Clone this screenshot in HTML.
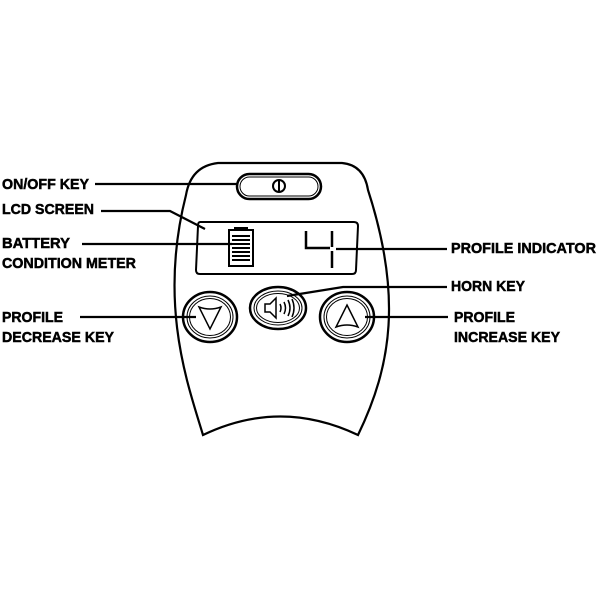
<!DOCTYPE html>
<html><head><style>html,body{margin:0;padding:0;background:#fff}</style></head>
<body>
<svg width="600" height="600" viewBox="0 0 600 600" xmlns="http://www.w3.org/2000/svg">
<g fill="none" stroke="#000">
<path d="M203,435 C188,385 158,305 186,195 Q191,166 218,163 L342,163 Q364,165 368,190 C402,295 392,365 358,435 Q280,398 203,435 Z" stroke-width="2.2"/>
<rect x="237" y="174" width="84" height="25" rx="12.5" stroke-width="2.5"/>
<rect x="240" y="177" width="78" height="19" rx="9.5" stroke-width="1"/>
<circle cx="279" cy="186" r="6" stroke-width="2"/>
<line x1="279" y1="180" x2="279" y2="192" stroke-width="2"/>
<path d="M200,222 L354,222 Q358,222 358,226 L356,270 Q356,274 352,274 L200,274 Q196,274 196,270 L198,226 Q198,222 200,222 Z" stroke-width="2"/>
<rect x="229" y="230" width="24" height="36" stroke-width="2"/>
<line x1="234" y1="228" x2="248" y2="228" stroke-width="2"/>
<g stroke-width="2">
<line x1="232" y1="236" x2="250" y2="236"/><line x1="232" y1="240" x2="250" y2="240"/>
<line x1="232" y1="244" x2="250" y2="244"/><line x1="232" y1="248" x2="250" y2="248"/>
<line x1="232" y1="252" x2="250" y2="252"/><line x1="232" y1="256" x2="250" y2="256"/>
<line x1="232" y1="260" x2="250" y2="260"/>
</g>
<path d="M306,231 L306,248 L330,248 M332,231 L332,247 M332,251 L332,268" stroke-width="2.5"/>
<g>
<ellipse cx="210" cy="317" rx="27" ry="25" stroke-width="2.5"/>
<ellipse cx="210" cy="317" rx="23" ry="21" stroke-width="1"/>
<ellipse cx="210" cy="317" rx="20.5" ry="18.5" stroke-width="1"/>
<path d="M199,307 Q210,311 221,307 L210,329 Z" stroke-width="1.5"/>
<ellipse cx="278" cy="308" rx="28" ry="21" stroke-width="2.5"/>
<ellipse cx="278" cy="308" rx="24" ry="17" stroke-width="1"/>
<ellipse cx="278" cy="308" rx="21.5" ry="14.5" stroke-width="1"/>
<path d="M265,304 L270,304 L276,298 L276,318 L270,312 L265,312 Z" stroke-width="1.5"/>
<path d="M280,304 Q282,308 280,312 M284,302 Q287,308 284,314 M288,300 Q292,308 288,316 M292,299 Q296,308 292,317" stroke-width="1.5"/>
<ellipse cx="347" cy="317" rx="27" ry="25" stroke-width="2.5"/>
<ellipse cx="347" cy="317" rx="23" ry="21" stroke-width="1"/>
<ellipse cx="347" cy="317" rx="20.5" ry="18.5" stroke-width="1"/>
<path d="M347,305 L358,327 Q347,323 336,327 Z" stroke-width="1.5"/>
</g>
<g stroke-width="2.2">
<line x1="95" y1="184" x2="238" y2="184"/>
<polyline points="101,211 170,211 205,229"/>
<line x1="82" y1="244" x2="232" y2="244"/>
<line x1="336" y1="249" x2="447" y2="249"/>
<polyline points="287,296 343,287 447,287"/>
<line x1="80" y1="317" x2="196" y2="317"/>
<line x1="365" y1="317" x2="448" y2="317"/>
</g>
</g>
<g font-family="'Liberation Sans',sans-serif" font-weight="bold" font-size="15" fill="#000" stroke="#000" stroke-width="0.5">
<text x="2" y="189" textLength="87" lengthAdjust="spacingAndGlyphs">ON/OFF KEY</text>
<text x="2" y="214" textLength="92" lengthAdjust="spacingAndGlyphs">LCD SCREEN</text>
<text x="2" y="248" textLength="68" lengthAdjust="spacingAndGlyphs">BATTERY</text>
<text x="2" y="268" textLength="134" lengthAdjust="spacingAndGlyphs">CONDITION METER</text>
<text x="2" y="322" textLength="61" lengthAdjust="spacingAndGlyphs">PROFILE</text>
<text x="2" y="342" textLength="112" lengthAdjust="spacingAndGlyphs">DECREASE KEY</text>
<text x="451" y="253" textLength="145" lengthAdjust="spacingAndGlyphs">PROFILE INDICATOR</text>
<text x="451" y="291" textLength="74" lengthAdjust="spacingAndGlyphs">HORN KEY</text>
<text x="454" y="322" textLength="61" lengthAdjust="spacingAndGlyphs">PROFILE</text>
<text x="454" y="342" textLength="106" lengthAdjust="spacingAndGlyphs">INCREASE KEY</text>
</g>
</svg>
</body></html>
